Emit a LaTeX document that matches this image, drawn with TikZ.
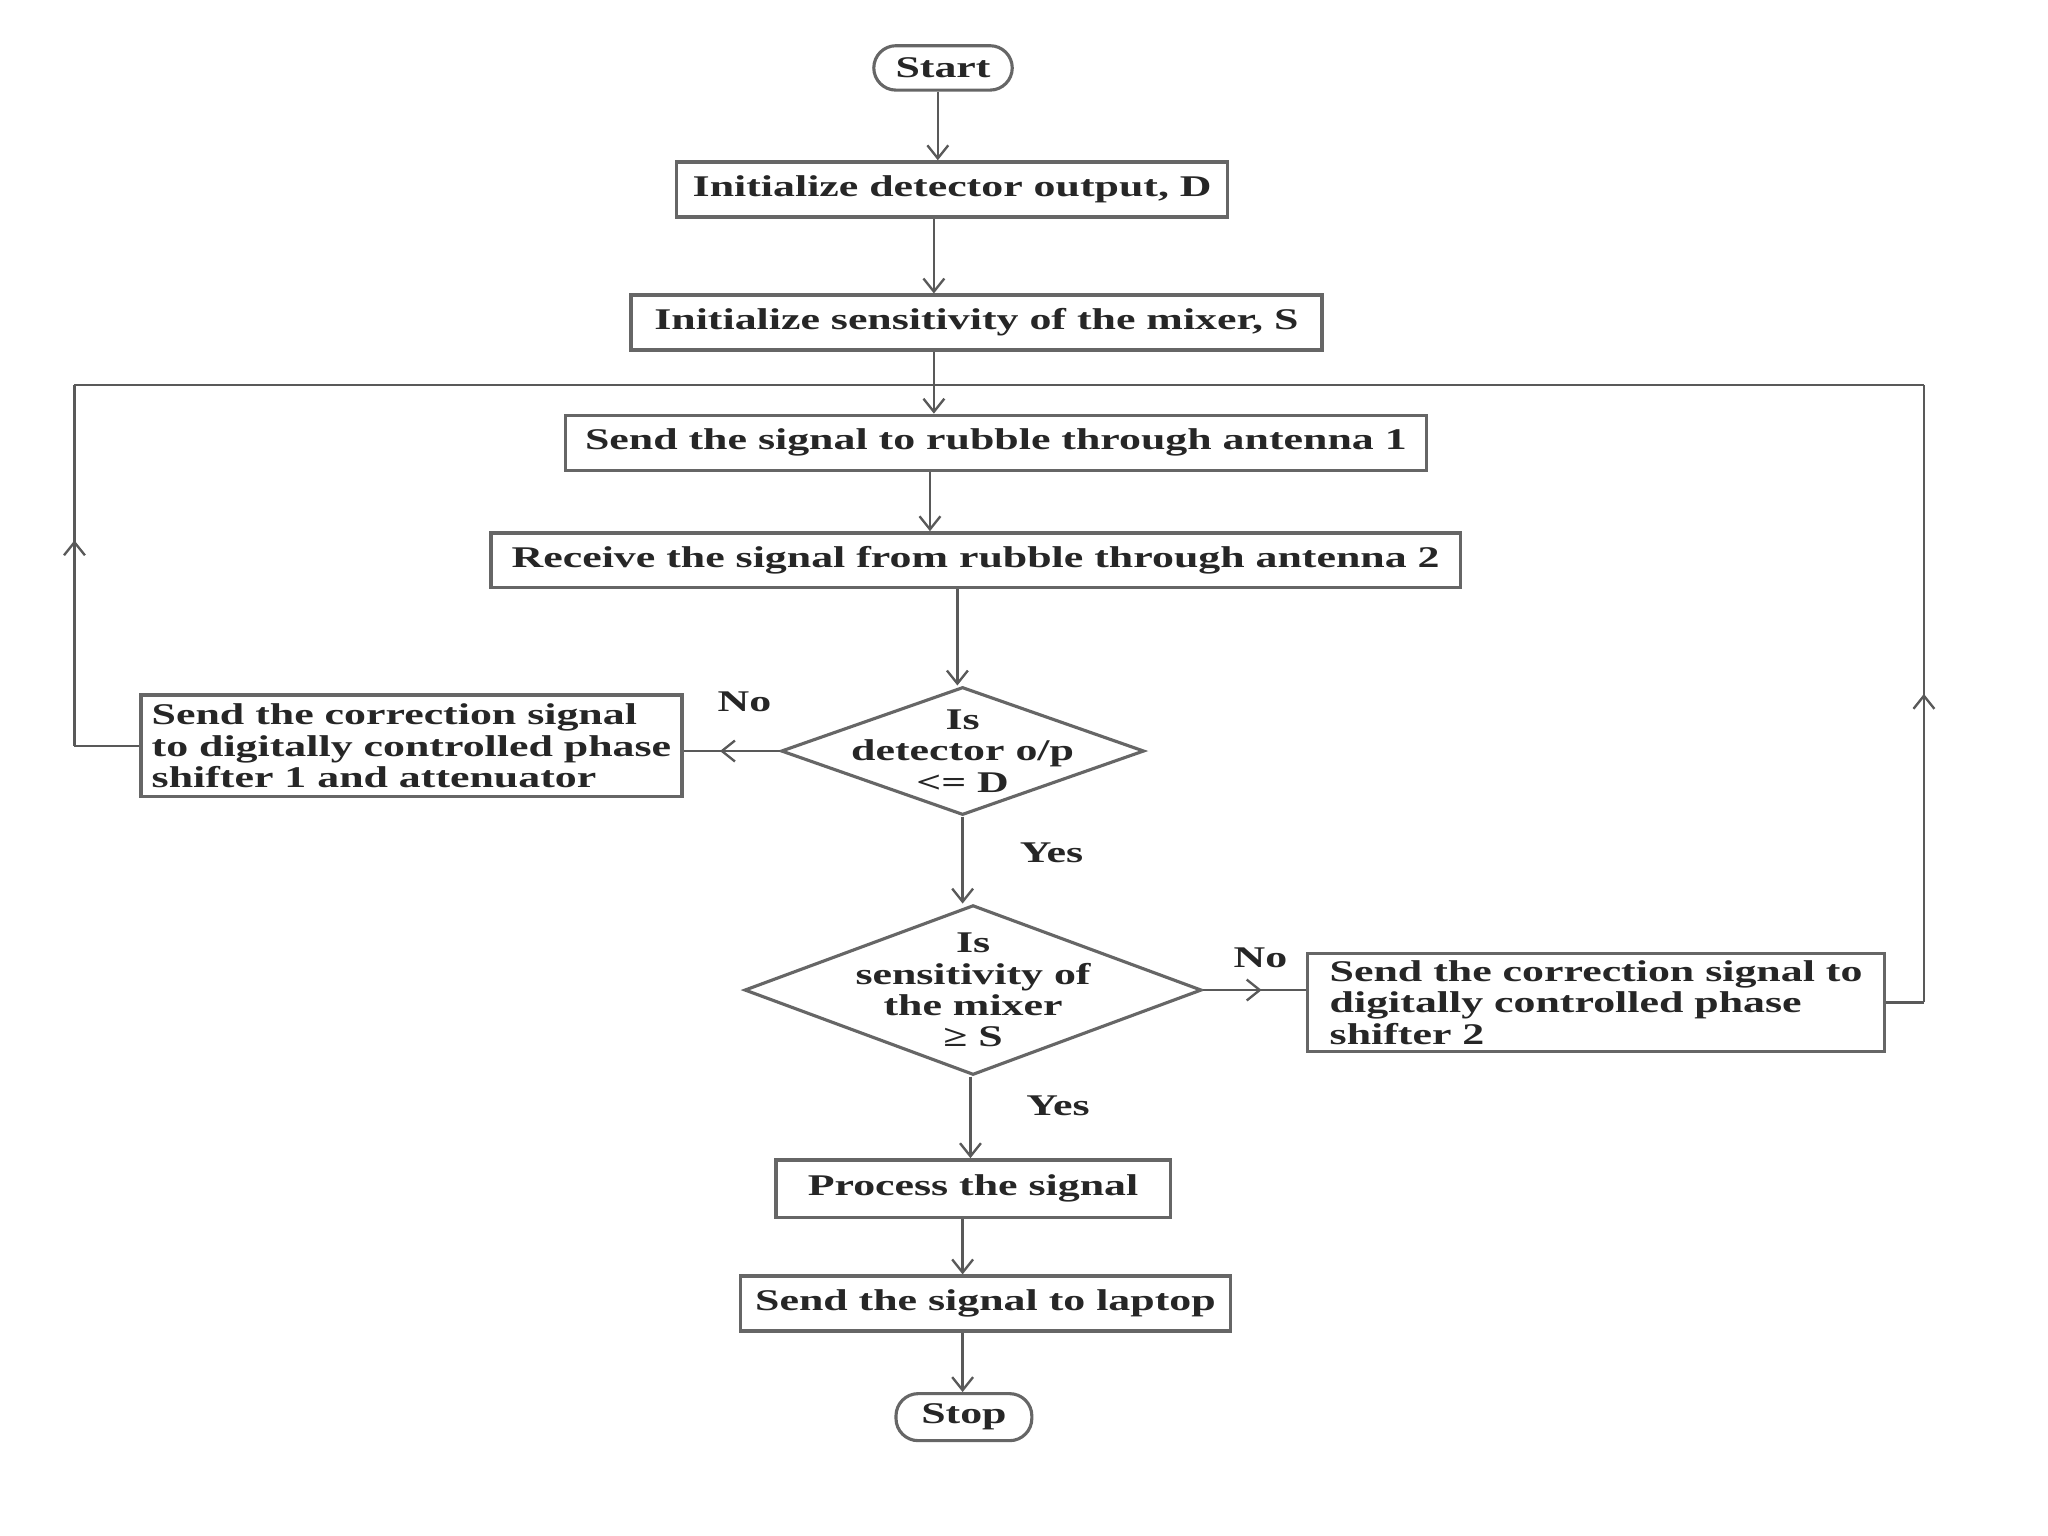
\documentclass[tikz,border=0pt]{standalone}
\usepackage{fontspec}
\setmainfont[FakeStretch=1.46]{Liberation Serif}
\usetikzlibrary{arrows.meta,shapes.geometric,decorations.markings}
\begin{document}
\begin{tikzpicture}[x=0.5pt,y=-0.5pt,
  every node/.style={font=\fontsize{11.5}{12}\selectfont\bfseries, text=black!85},
  box/.style={draw=black!60, line width=1.3pt, inner sep=0pt, minimum height=21pt},
  term/.style={draw=black!60, line width=1.2pt, rounded corners=8.5pt, inner sep=0pt},
  dia/.style={draw=black!60, line width=1.2pt, diamond, inner sep=0pt},
  lbl/.style={inner sep=0pt},
  arr/.style={draw=black!65, line width=0.9pt, -{Straight Barb[length=5pt,width=8pt]}},
  ln/.style={draw=black!65, line width=0.9pt},
  midarr/.style={ln, postaction={decorate}, decoration={markings, mark=at position #1 with {\arrow{Straight Barb[length=5pt,width=8pt]}}}}
]
\useasboundingbox (0,0) rectangle (1568,1176);
\fill[white] (0,0) rectangle (1568,1176);

\node[term, minimum width=53pt, minimum height=17pt] (start) at (722,52) {Start};
\node[box, minimum width=211pt] (b1) at (729,145) {Initialize detector output, D};
\node[box, minimum width=264.5pt] (b2) at (747.5,247) {Initialize sensitivity of the mixer, S};
\node[box, minimum width=329.5pt] (b3) at (762.5,339) {Send the signal to rubble through antenna 1};
\node[box, minimum width=371pt] (b4) at (747,429) {Receive the signal from rubble through antenna 2};

\node[dia, minimum width=139pt, minimum height=49pt] (d1) at (737,575) {};
\node[lbl, align=center] (d1t) at (d1.center) {Is\\detector o/p\\<= D};

\node[box, minimum width=207pt, minimum height=39pt, align=left] (lb) at (315,571) {Send the correction signal\\to digitally controlled phase\\shifter 1 and attenuator};

\node[dia, minimum width=175pt, minimum height=65pt] (d2) at (745,758) {};
\node[lbl, align=center] (d2t) at (d2.center) {Is\\sensitivity of\\the mixer\\≥ S};

\node[box, minimum width=221pt, minimum height=37.5pt, align=left] (rb) at (1222,767.5) {Send the correction signal to\\digitally controlled phase\\shifter 2};

\node[box, minimum width=151pt, minimum height=22pt] (pr) at (745,910) {Process the signal};
\node[box, minimum width=187.5pt] (lp) at (754.5,998) {Send the signal to laptop};
\node[term, minimum width=52pt, minimum height=18pt] (stop) at (738,1085) {Stop};

\node[lbl] (no1) at (570,537) {No};
\node[lbl] (yes1) at (805,653) {Yes};
\node[lbl] (no2) at (965,733) {No};
\node[lbl] (yes2) at (810,847) {Yes};

% main flow
\draw[arr] (start.south -| 718,0) -- (b1.north -| 718,0);
\draw[arr] (b1.south -| 715,0) -- (b2.north -| 715,0);
\draw[arr] (b2.south -| 715,0) -- (b3.north -| 715,0);
\draw[arr] (b3.south -| 712,0) -- (b4.north -| 712,0);
\draw[arr] (b4.south -| 733,0) -- (d1.north -| 733,0);
\draw[arr] (d1.south -| 737,0) -- (d2.north -| 737,0);
\draw[arr] (d2.south -| 743,0) -- (pr.north -| 743,0);
\draw[arr] (pr.south -| 737,0) -- (lp.north -| 737,0);
\draw[arr] (lp.south -| 737,0) -- (stop.north -| 737,0);

% No branches
\draw[midarr=0.62] (d1.west) -- (d1.west -| lb.east);
\draw[midarr=0.57] (d2.east) -- (d2.east -| rb.west);

% loops
\coordinate (jn) at (715,295);
\coordinate (lt) at (57,295);
\coordinate (rt) at (1473,295);
\draw[ln] (lb.west) -- (lb.west -| lt);
\draw[midarr=0.57] (lb.west -| lt) -- (lt);
\draw[ln] (lt) -- (jn);
\draw[ln] (rb.east) -- (rb.east -| rt);
\draw[midarr=0.5] (rb.east -| rt) -- (rt);
\draw[ln] (rt) -- (jn);
\end{tikzpicture}
\end{document}
